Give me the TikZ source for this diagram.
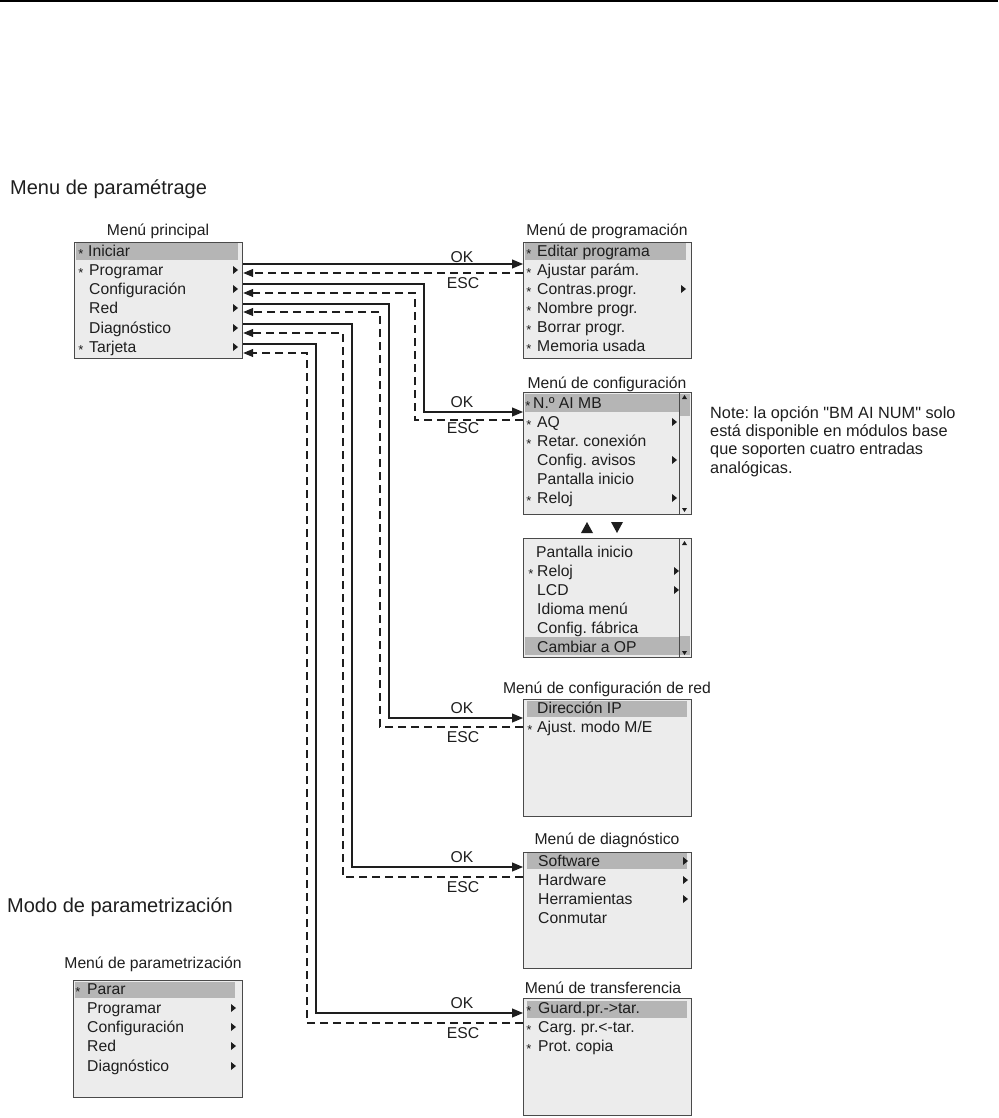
\documentclass[tikz,border=0pt]{standalone}
\usepackage{fontspec}
\setmainfont{Liberation Sans}[Ligatures=TeXOff]
\usetikzlibrary{arrows.meta,calc}
\definecolor{boxfill}{HTML}{ECECEC}
\definecolor{boxline}{HTML}{4A4A4A}
\definecolor{hlfill}{HTML}{B5B5B5}
\definecolor{txt}{HTML}{1E1E1E}
\frenchspacing
\newcommand\mitem[4]{\node[itm] (#1) at (#2,#3+5.5) {#4};}
\newcommand\mstar[3]{\node[astk] (#1) at (#2,#3+7) {*};}
\newcommand\msub[2]{\fill[txt] (#1,#2-4) -- ++(5,4) -- ++(-5,4) -- cycle;}
\newcommand\mtitle[4]{\node[ttl] (#1) at (#2,#3+5.5) {#4};}
\begin{document}
\begin{tikzpicture}[x=1pt,y=-1pt,
  mbox/.style={draw=boxline,fill=boxfill,line width=1.2pt,minimum width=168pt,minimum height=116pt,inner sep=0pt,anchor=north west},
  itm/.style={anchor=base west,inner sep=0pt,text=txt,font=\fontsize{15.7}{18}\selectfont},
  astk/.style={anchor=base,inner sep=0pt,text=txt,font=\fontsize{13}{15}\selectfont},
  ttl/.style={anchor=base,inner sep=0pt,text=txt,font=\fontsize{15.7}{18}\selectfont},
  lbl/.style={anchor=base,inner sep=0pt,text=txt,font=\fontsize{15.7}{18}\selectfont},
  sect/.style={anchor=base west,inner sep=0pt,text=txt,font=\fontsize{20}{23}\selectfont},
  okl/.style={draw=txt,line width=1.1pt,-{Triangle[length=11pt,width=9pt]}},
  escl/.style={draw=txt,line width=1.1pt,dash pattern=on 8pt off 5pt,-{Triangle[length=10pt,width=8pt]}}]
\useasboundingbox (0,0) rectangle (998,1118);
\draw[line width=1.6pt,black] (0,1) -- (998,1);

% section titles
\node[sect] (s1) at (10,194) {Menu de paramétrage};
\node[sect] (s2) at (7,912) {Modo de parametrización};

% ---------- Main menu ----------
\mtitle{tmain}{158}{230}{Menú principal}
\node[mbox] (main) at (74,242) {};
\fill[hlfill] (76,243) rectangle (238,260);
\mstar{am1}{81}{251}\mitem{m1}{88}{251}{Iniciar}
\mstar{am2}{81}{270}\mitem{m2}{89}{270}{Programar}\msub{233}{270}
\mitem{m3}{89}{289}{Configuración}\msub{233}{289}
\mitem{m4}{89}{308}{Red}\msub{233}{308}
\mitem{m5}{89}{328}{Diagnóstico}\msub{233}{328}
\mstar{am6}{81}{347}\mitem{m6}{89}{347}{Tarjeta}\msub{233}{347}

% ---------- Programming ----------
\mtitle{tprog}{607}{230}{Menú de programación}
\node[mbox] (prog) at (523,242) {};
\fill[hlfill] (525,243) rectangle (686,260);
\mstar{ap1}{529}{251}\mitem{p1}{537}{251}{Editar programa}
\mstar{ap2}{529}{270}\mitem{p2}{537}{270}{Ajustar parám.}
\mstar{ap3}{529}{289}\mitem{p3}{537}{289}{Contras.progr.}\msub{681}{289}
\mstar{ap4}{529}{308}\mitem{p4}{537}{308}{Nombre progr.}
\mstar{ap5}{529}{327}\mitem{p5}{537}{327}{Borrar progr.}
\mstar{ap6}{529}{346}\mitem{p6}{537}{346}{Memoria usada}

% ---------- Configuration ----------
\mtitle{tconf}{607}{383}{Menú de configuración}
\node[mbox,minimum height=122pt] (conf) at (523,392) {};
\fill[hlfill] (525,394) rectangle (679,412);
\fill[hlfill] (679.5,394) rectangle (689.5,416);
\draw[boxline,line width=0.8pt] (679,392) -- (679,514);
\fill[txt] (682,399) -- (687,399) -- (684.5,395) -- cycle;
\fill[txt] (682,508) -- (687,508) -- (684.5,512) -- cycle;
\mstar{ac1}{528}{403}\mitem{c1}{533}{403}{N.º AI MB}
\mstar{ac2}{529}{422}\mitem{c2}{537}{422}{AQ}\msub{672}{422}
\mstar{ac3}{529}{441}\mitem{c3}{537}{441}{Retar. conexión}
\mitem{c4}{537}{460}{Config. avisos}\msub{672}{460}
\mitem{c5}{537}{479}{Pantalla inicio}
\mstar{ac6}{529}{498}\mitem{c6}{537}{498}{Reloj}\msub{672}{498}

\fill[txt] (581,533) -- (593,533) -- (587,522) -- cycle;
\fill[txt] (611,522) -- (623,522) -- (617,533) -- cycle;

\node[mbox,minimum height=119pt] (conf2) at (523,538) {};
\fill[hlfill] (525,637) rectangle (679,655);
\fill[hlfill] (679.5,636) rectangle (689.5,655);
\draw[boxline,line width=0.8pt] (679,538) -- (679,657);
\fill[txt] (682,545) -- (687,545) -- (684.5,541) -- cycle;
\fill[txt] (682,651) -- (687,651) -- (684.5,655) -- cycle;
\mitem{k1}{536}{552}{Pantalla inicio}
\mstar{ak2}{531}{571}\mitem{k2}{537}{571}{Reloj}\msub{674}{571}
\mitem{k3}{537}{590}{LCD}\msub{674}{590}
\mitem{k4}{537}{609}{Idioma menú}
\mitem{k5}{537}{628}{Config. fábrica}
\mitem{k6}{537}{647}{Cambiar a OP}

\node[anchor=base west,inner sep=0pt,text=txt,align=left,font=\fontsize{16.3}{18.3}\selectfont] (note) at (710,473)
  {Note: la opción "BM AI NUM" solo\\está disponible en módulos base\\que soporten cuatro entradas\\analógicas.};

% ---------- Network ----------
\mtitle{tnet}{607}{688}{Menú de configuración de red}
\node[mbox,minimum height=117pt] (net) at (523,699) {};
\fill[hlfill] (527,701) rectangle (687,717);
\mitem{n1}{537}{708}{Dirección IP}
\mstar{an2}{530}{727}\mitem{n2}{537}{727}{Ajust. modo M/E}

% ---------- Diagnostics ----------
\mtitle{tdiag}{607}{839}{Menú de diagnóstico}
\node[mbox] (diag) at (523,852) {};
\fill[hlfill] (527,853) rectangle (687,869);
\mitem{d1}{538}{861}{Software}\msub{683}{861}
\mitem{d2}{538}{880}{Hardware}\msub{683}{880}
\mitem{d3}{538}{899}{Herramientas}\msub{683}{899}
\mitem{d4}{538}{918}{Conmutar}

% ---------- Transfer ----------
\mtitle{ttra}{603}{988}{Menú de transferencia}
\node[mbox,minimum height=117pt] (tra) at (523,998) {};
\fill[hlfill] (527,1001) rectangle (687,1018);
\mstar{at1}{529}{1008}\mitem{t1}{538}{1008}{Guard.pr.->tar.}
\mstar{at2}{529}{1027}\mitem{t2}{538}{1027}{Carg. pr.<-tar.}
\mstar{at3}{529}{1046}\mitem{t3}{538}{1046}{Prot. copia}

% ---------- Parametrization ----------
\mtitle{tpar}{153}{963}{Menú de parametrización}
\node[mbox,minimum width=169pt,minimum height=117pt] (par) at (73,980) {};
\fill[hlfill] (75,982) rectangle (235,998);
\mstar{aq1}{78}{989}\mitem{q1}{87}{989}{Parar}
\mitem{q2}{87}{1008}{Programar}\msub{231}{1008}
\mitem{q3}{87}{1027}{Configuración}\msub{231}{1027}
\mitem{q4}{87}{1046}{Red}\msub{231}{1046}
\mitem{q5}{87}{1066}{Diagnóstico}\msub{231}{1066}

% ---------- Connectors ----------
% programming
\draw[okl] ([yshift=-22pt]main.north east) -- ([yshift=-22pt]prog.north west);
\draw[escl] ([yshift=-31pt]prog.north west) -- ([yshift=-31pt]main.north east);
\node[lbl] (ok1) at (462,262.5) {OK};
\node[lbl] (esc1) at (463,288.5) {ESC};
% configuration
\draw[okl] ([yshift=-42pt]main.north east) -| ([xshift=-99pt,yshift=-20pt]conf.north west) -- ([yshift=-20pt]conf.north west);
\draw[escl] ([yshift=-28pt]conf.north west) -- ([xshift=-108pt,yshift=-28pt]conf.north west) |- ([yshift=-51pt]main.north east);
\node[lbl] (ok2) at (462,407.5) {OK};
\node[lbl] (esc2) at (463,433.5) {ESC};
% network
\draw[okl] ([yshift=-62pt]main.north east) -| ([xshift=-134pt,yshift=-19pt]net.north west) -- ([yshift=-19pt]net.north west);
\draw[escl] ([yshift=-28pt]net.north west) -- ([xshift=-143pt,yshift=-28pt]net.north west) |- ([yshift=-70pt]main.north east);
\node[lbl] (ok3) at (462,713.5) {OK};
\node[lbl] (esc3) at (463,742.5) {ESC};
% diagnostics
\draw[okl] ([yshift=-82pt]main.north east) -| ([xshift=-171pt,yshift=-15pt]diag.north west) -- ([yshift=-15pt]diag.north west);
\draw[escl] ([yshift=-25pt]diag.north west) -- ([xshift=-180pt,yshift=-25pt]diag.north west) |- ([yshift=-91pt]main.north east);
\node[lbl] (ok4) at (462,862.5) {OK};
\node[lbl] (esc4) at (463,892.5) {ESC};
% transfer
\draw[okl] ([yshift=-102pt]main.north east) -| ([xshift=-207pt,yshift=-15pt]tra.north west) -- ([yshift=-15pt]tra.north west);
\draw[escl] ([yshift=-25pt]tra.north west) -- ([xshift=-216pt,yshift=-25pt]tra.north west) |- ([yshift=-111pt]main.north east);
\node[lbl] (ok5) at (462,1008.5) {OK};
\node[lbl] (esc5) at (463,1038.5) {ESC};
\end{tikzpicture}
\end{document}
